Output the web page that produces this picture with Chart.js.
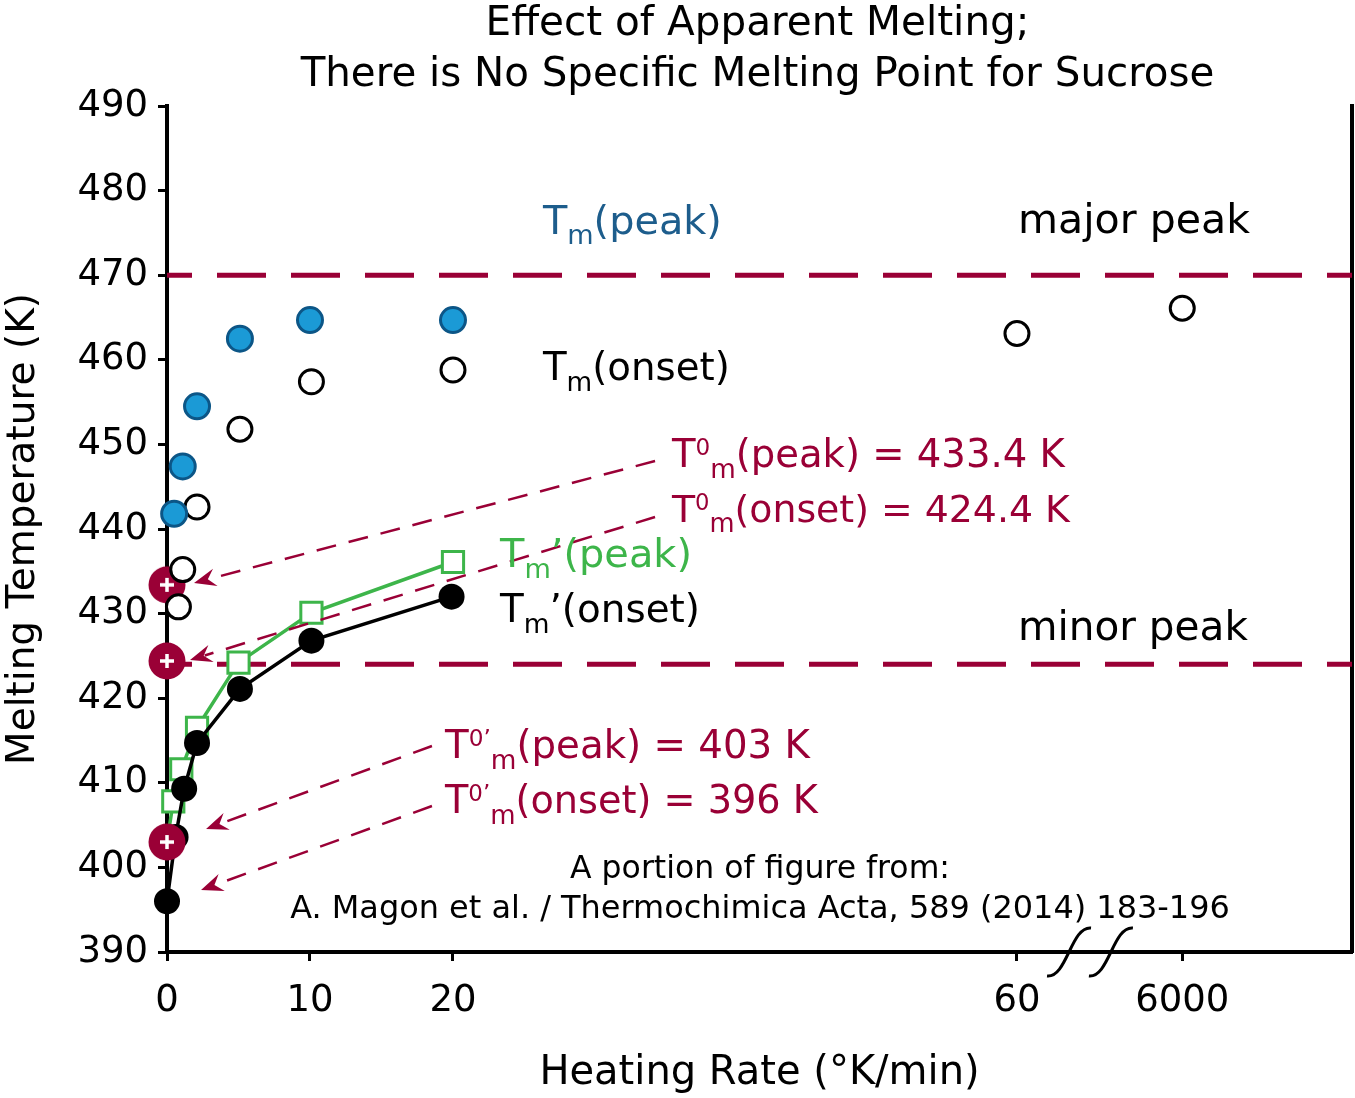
<!DOCTYPE html>
<html><head><meta charset="utf-8">
<script src="https://cdn.jsdelivr.net/npm/chart.js@4.4.1/dist/chart.umd.min.js"></script>
<style>html,body{margin:0;padding:0;background:#fff;}#wrap{width:1355px;height:1098px;position:relative;}</style>
</head><body><div id="wrap"><canvas id="c" width="1355" height="1098"></canvas></div>
<script>
// ---------- DATA ----------
const peakRates = [0.5, 1.1, 2.1, 5.1, 10.0, 20.0];
const peakTemps = [441.8, 447.4, 454.5, 462.5, 464.7, 464.7];
const onsetRates = [0.8, 1.1, 2.1, 5.1, 10.1, 20.0, 60, 6000];
const onsetTemps = [430.8, 435.2, 442.6, 451.8, 457.4, 458.8, 463.1, 466.1];
const primePeakRates = [0, 0.44, 1.0, 2.1, 5.0, 10.1, 20.0];
const primePeakTemps = [403, 407.8, 411.6, 416.5, 424.2, 430.1, 436.1];
const primeOnsetRates = [0, 0.6, 1.2, 2.1, 5.1, 10.1, 19.9];
const primeOnsetTemps = [396, 403.6, 409.3, 414.7, 421.1, 426.8, 432.0];
const extrapRates = [0, 0, 0];
const extrapTemps = [433.4, 424.4, 403];
const majorPeakTemp = 470;
const minorPeakTemp = 424;
const xTickRates = [0, 10, 20, 60, 6000];
const xTickLabels = ['0', '10', '20', '60', '6000'];
const yMin = 390, yMax = 490, yStep = 10;

// ---------- broken x axis (axis units) ----------
const X_MAX_U = 82.87;
const SEG60_U = 59.44, SEG6000_U = 71.0;
const BREAK_U = [63.08, 66.01];
function rateToAxis(r) {
  if (r <= 30) return r;
  if (r <= 1000) return SEG60_U + (r - 60);
  return SEG6000_U + (r - 6000) / 100;
}
const xy = (rs, ts) => rs.map((r, i) => ({x: rateToAxis(r), y: ts[i]}));

// ---------- styles ----------
const FAM = '"DejaVu Sans", sans-serif';
const CRIMSON = '#9a0036';
const BLUE_FILL = '#1b9ad6', BLUE_EDGE = '#0c5687', BLUE_TXT = '#1d5d8c';
const GREEN = '#3db54a';

function makeMarker() {
  const c = document.createElement('canvas'); c.width = 40; c.height = 40;
  const g = c.getContext('2d');
  g.fillStyle = CRIMSON; g.beginPath(); g.arc(20, 20, 18.5, 0, Math.PI * 2); g.fill();
  g.strokeStyle = '#fff'; g.lineWidth = 3.5; g.beginPath();
  g.moveTo(13, 20); g.lineTo(27, 20); g.moveTo(20, 13); g.lineTo(20, 27); g.stroke();
  return c;
}

// annotation texts (position in axis units / kelvin, target width in px)
const notes = [
  {segs: [{t: 'T'}, {t: 'm', sub: 1}, {t: '(peak)'}], u: 26.29, k: 474.9, w: 179, color: BLUE_TXT},
  {segs: [{t: 'T'}, {t: 'm', sub: 1}, {t: '(onset)'}], u: 26.29, k: 457.6, w: 187, color: '#000'},
  {segs: [{t: 'major peak'}], u: 59.51, k: 475.0, w: 232, color: '#000'},
  {segs: [{t: 'minor peak'}], u: 59.51, k: 426.9, w: 230, color: '#000'},
  {segs: [{t: 'T'}, {t: '0', sup: 1}, {t: 'm', sub: 1}, {t: '(peak) = 433.4 K'}], u: 35.31, k: 447.3, w: 393, color: CRIMSON},
  {segs: [{t: 'T'}, {t: '0', sup: 1}, {t: 'm', sub: 1}, {t: '(onset) = 424.4 K'}], u: 35.31, k: 440.8, w: 398, color: CRIMSON},
  {segs: [{t: 'T'}, {t: 'm', sub: 1}, {t: '\u2019(peak)'}], u: 23.29, k: 435.5, w: 192, color: GREEN},
  {segs: [{t: 'T'}, {t: 'm', sub: 1}, {t: '\u2019(onset)'}], u: 23.29, k: 429.0, w: 200, color: '#000'},
  {segs: [{t: 'T'}, {t: '0\u2019', sup: 1}, {t: 'm', sub: 1}, {t: '(peak) = 403 K'}], u: 19.44, k: 412.9, w: 365, color: CRIMSON},
  {segs: [{t: 'T'}, {t: '0\u2019', sup: 1}, {t: 'm', sub: 1}, {t: '(onset) = 396 K'}], u: 19.44, k: 406.4, w: 373, color: CRIMSON},
  {segs: [{t: 'A portion of figure from:'}], u: 41.47, k: 398.7, w: 380, color: '#000', center: 1},
  {segs: [{t: 'A. Magon et al. / Thermochimica Acta, 589 (2014) 183-196'}], u: 41.47, k: 394.0, w: 940, color: '#000', center: 1}
];
const arrows = [
  {from: [34.13, 448.04], to: [1.89, 433.62]},
  {from: [34.13, 441.42], to: [1.61, 424.52]},
  {from: [18.53, 414.35], to: [2.73, 404.54]},
  {from: [18.53, 407.26], to: [2.38, 397.33]}
];
const titleLines = ['Effect of Apparent Melting;', 'There is No Specific Melting Point for Sucrose'];
const titleWidths = [544, 914];
const titleBaselines = [35, 86];

function segLayout(ctx, segs, size) {
  return segs.map(s => {
    const sz = s.sub ? size * 0.68 : s.sup ? size * 0.6 : size;
    ctx.font = sz + 'px ' + FAM;
    return {s, sz, w: ctx.measureText(s.t).width};
  });
}
function drawRich(ctx, segs, x, y, targetW, color, center) {
  let parts = segLayout(ctx, segs, 40);
  let total = parts.reduce((a, p) => a + p.w, 0);
  const size = 40 * targetW / total;
  parts = segLayout(ctx, segs, size);
  total = parts.reduce((a, p) => a + p.w, 0);
  let cx = center ? x - total / 2 : x;
  ctx.fillStyle = color; ctx.textBaseline = 'alphabetic'; ctx.textAlign = 'left';
  for (const p of parts) {
    ctx.font = p.sz + 'px ' + FAM;
    const dy = p.s.sub ? size * 0.27 : p.s.sup ? -size * 0.32 : 0;
    ctx.fillText(p.s.t, cx, y + dy);
    cx += p.w;
  }
}

const annot = {
  id: 'annot',
  afterDatasetsDraw(chart) {
    const ctx = chart.ctx, xs = chart.scales.x, ys = chart.scales.y;
    ctx.save();
    for (const a of arrows) {
      const x0 = xs.getPixelForValue(a.from[0]), y0 = ys.getPixelForValue(a.from[1]);
      const x1 = xs.getPixelForValue(a.to[0]), y1 = ys.getPixelForValue(a.to[1]);
      const L = Math.hypot(x1 - x0, y1 - y0), dx = (x1 - x0) / L, dy = (y1 - y0) / L;
      const nx = -dy, ny = dx, AL = 22, AW = 9;
      ctx.strokeStyle = CRIMSON; ctx.lineWidth = 2.5; ctx.setLineDash([20, 13]);
      ctx.beginPath(); ctx.moveTo(x0, y0); ctx.lineTo(x1 - dx * AL * 0.7, y1 - dy * AL * 0.7); ctx.stroke();
      ctx.setLineDash([]);
      ctx.fillStyle = CRIMSON; ctx.beginPath();
      ctx.moveTo(x1, y1);
      ctx.lineTo(x1 - dx * AL + nx * AW, y1 - dy * AL + ny * AW);
      ctx.lineTo(x1 - dx * AL * 0.65, y1 - dy * AL * 0.65);
      ctx.lineTo(x1 - dx * AL - nx * AW, y1 - dy * AL - ny * AW);
      ctx.closePath(); ctx.fill();
    }
    for (const n of notes) {
      drawRich(ctx, n.segs, xs.getPixelForValue(n.u), ys.getPixelForValue(n.k), n.w, n.color, n.center);
    }
    ctx.restore();
  },
  afterDraw(chart) {
    const ctx = chart.ctx, xs = chart.scales.x, area = chart.chartArea;
    ctx.save();
    ctx.strokeStyle = '#000'; ctx.lineWidth = 3;
    for (const b of BREAK_U) {
      const x = xs.getPixelForValue(b), y = area.bottom;
      ctx.beginPath();
      ctx.moveTo(x - 22, y + 24);
      ctx.bezierCurveTo(x - 2, y + 26, x + 2, y - 26, x + 22, y - 24);
      ctx.stroke();
    }
    const cx = (area.left + area.right) / 2 - 2;
    titleLines.forEach((t, i) => drawRich(ctx, [{t}], cx, titleBaselines[i], titleWidths[i], '#000', 1));
    ctx.restore();
  }
};

const hline = (k) => [{x: 0, y: k}, {x: X_MAX_U, y: k}];

new Chart(document.getElementById('c'), {
  type: 'scatter',
  data: {
    datasets: [
      {data: hline(majorPeakTemp), showLine: true, borderColor: CRIMSON, borderWidth: 5, borderDash: [49, 25], borderDashOffset: 24, pointRadius: 0, order: 10, clip: false},
      {data: hline(minorPeakTemp), showLine: true, borderColor: CRIMSON, borderWidth: 5, borderDash: [49, 25], borderDashOffset: 24, pointRadius: 0, order: 10, clip: false},
      {data: xy(primePeakRates, primePeakTemps), showLine: true, borderColor: GREEN, borderWidth: 3.5, pointStyle: 'rect', pointRadius: 15, pointBorderWidth: 3, pointBorderColor: GREEN, pointBackgroundColor: '#fff', order: 7, clip: false},
      {data: xy(primeOnsetRates, primeOnsetTemps), showLine: true, borderColor: '#000', borderWidth: 3.5, pointRadius: 13, pointBorderWidth: 0, pointBackgroundColor: '#000', pointBorderColor: '#000', order: 6, clip: false},
      {data: xy(extrapRates, extrapTemps), pointStyle: makeMarker(), pointRadius: 20, order: 4, clip: false},
      {data: xy(onsetRates, onsetTemps), pointRadius: 12, pointBorderWidth: 3, pointBorderColor: '#000', pointBackgroundColor: '#fff', order: 2, clip: false},
      {data: xy(peakRates, peakTemps), pointRadius: 12.5, pointBorderWidth: 3, pointBorderColor: BLUE_EDGE, pointBackgroundColor: BLUE_FILL, order: 1, clip: false}
    ]
  },
  options: {
    responsive: false, animation: false, events: [], devicePixelRatio: 1,
    layout: {autoPadding: false, padding: {top: 106, right: 0, bottom: 0, left: 0}},
    plugins: {legend: {display: false}, tooltip: {enabled: false}, title: {display: false}},
    scales: {
      x: {
        type: 'linear', min: 0, max: X_MAX_U,
        afterBuildTicks(s) { s.ticks = xTickRates.map(r => ({value: rateToAxis(r)})); },
        afterFit(s) { s.height = 146; s.paddingLeft = 0; s.paddingRight = 0; },
        ticks: {callback: (v, i) => xTickLabels[i], font: {family: FAM, size: 37}, color: '#000', padding: 18, autoSkip: false, maxRotation: 0},
        grid: {drawOnChartArea: false, drawTicks: true, tickLength: 9, tickWidth: 3, tickColor: '#000'},
        border: {display: true, color: '#000', width: 4},
        title: {display: true, text: 'Heating Rate (\u00b0K/min)', font: {family: FAM, size: 40}, color: '#000', padding: {top: 0, bottom: 0}}
      },
      y: {
        type: 'linear', min: yMin, max: yMax,
        afterFit(s) { s.width = 167; s.paddingTop = 0; s.paddingBottom = 0; },
        ticks: {stepSize: yStep, font: {family: FAM, size: 37}, color: '#000', padding: 10},
        grid: {drawOnChartArea: false, drawTicks: true, tickLength: 9, tickWidth: 3, tickColor: '#000'},
        border: {display: true, color: '#000', width: 4},
        title: {display: true, text: 'Melting Temperature (K)', font: {family: FAM, size: 39}, color: '#000', padding: {top: 0, bottom: 0}}
      },
      yR: {
        type: 'linear', position: 'right', display: true,
        afterFit(s) { s.width = 3; s.paddingTop = 0; s.paddingBottom = 0; },
        ticks: {display: false}, grid: {display: false},
        border: {display: true, color: '#000', width: 4}
      }
    }
  },
  plugins: [annot]
});
</script></body></html>
